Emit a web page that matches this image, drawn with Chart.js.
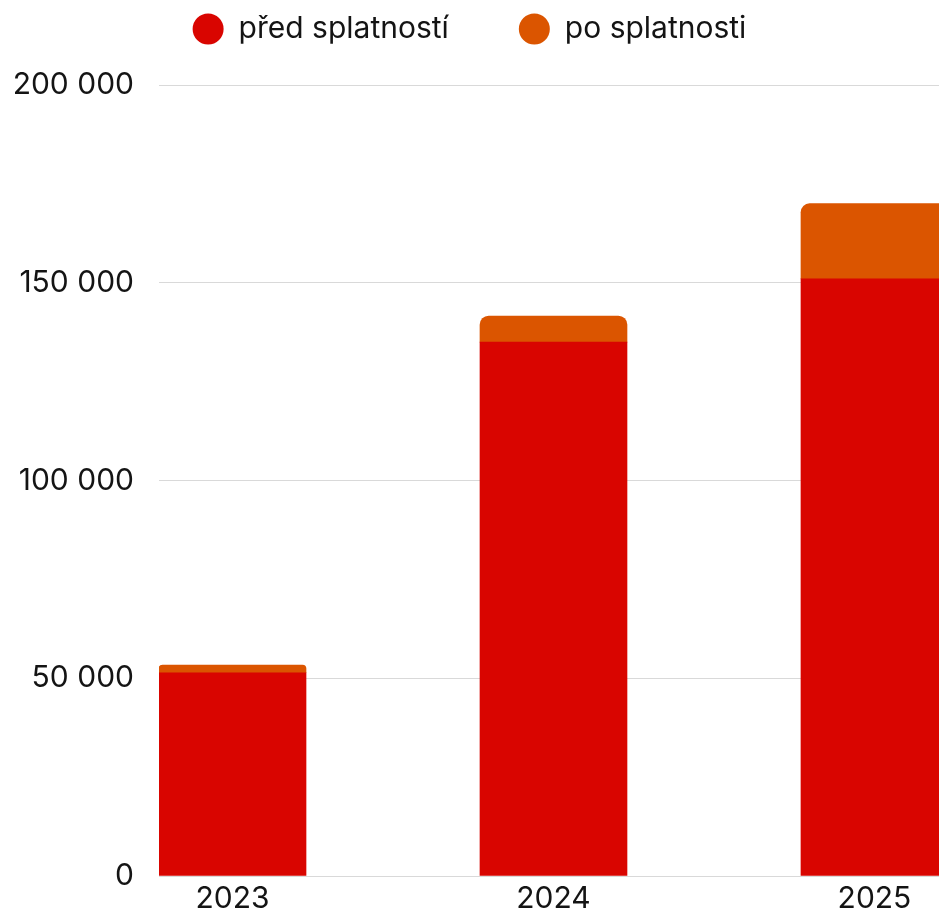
<!DOCTYPE html>
<html lang="cs">
<head>
  <meta charset="UTF-8">
  <title>Pohledávky</title>
  <script src="https://cdn.jsdelivr.net/npm/chart.js"></script>
  <style>
    html, body { margin: 0; padding: 0; background: #fff; overflow: hidden; }
    .chart-box { position: relative; width: 939px; height: 916px; }
  </style>
</head>
<body>
  <div class="chart-box">
    <canvas id="chart"></canvas>
  </div>

  <script>
    // data
    const years = [2023, 2024, 2025];
    const beforeDue = [51400, 135000, 151000];
    const afterDue = [1950, 6600, 19000];
    const seriesNames = ['před splatností', 'po splatnosti'];
    const yTicks = [0, 50000, 100000, 150000, 200000];

    const RED = '#d90500';
    const ORANGE = '#db5500';

    Chart.defaults.font.family = 'Inter, "Open Sans", sans-serif';
    Chart.defaults.font.size = 30;
    Chart.defaults.color = '#141414';

    function fmt(v) {
      return String(v).replace(/\B(?=(\d{3})+(?!\d))/g, ' ');
    }

    // legend needs more room below it than Chart.js gives
    const legendHeight = {
      id: 'legendHeight',
      beforeInit(chart) {
        const fit = chart.legend.fit;
        chart.legend.fit = function () {
          fit.call(this);
          this.height = 141;
        };
      }
    };

    const ctx = document.getElementById('chart').getContext('2d');
    new Chart(ctx, {
      type: 'bar',
      data: {
        datasets: [
          {
            label: seriesNames[0],
            data: years.map((y, i) => ({ x: y, y: beforeDue[i] })),
            backgroundColor: RED,
            borderWidth: 0,
            borderRadius: 0,
            barThickness: 147
          },
          {
            label: seriesNames[1],
            data: years.map((y, i) => ({ x: y, y: afterDue[i] })),
            backgroundColor: ORANGE,
            borderWidth: 0,
            borderRadius: { topLeft: 9, topRight: 9, bottomLeft: 0, bottomRight: 0 },
            borderSkipped: false,
            barThickness: 147
          }
        ]
      },
      options: {
        responsive: true,
        maintainAspectRatio: false,
        animation: false,
        events: [],
        layout: { padding: { top: -56, left: 0, right: 0, bottom: 0 } },
        plugins: {
          legend: {
            position: 'top',
            labels: {
              usePointStyle: true,
              pointStyle: 'circle',
              boxHeight: 22,
              pointStyleWidth: 31,
              padding: 70,
              font: { size: 30 }
            }
          },
          tooltip: { enabled: false }
        },
        scales: {
          x: {
            type: 'linear',
            stacked: true,
            offset: false,
            min: 2022.771,
            max: 2025.201,
            afterFit: scale => { scale.height = 40; },
            grid: { display: false, drawTicks: false, offset: false },
            border: { display: false },
            ticks: {
              stepSize: 1,
              includeBounds: false,
              autoSkip: false,
              maxRotation: 0,
              padding: 4.5,
              callback: v => String(v)
            }
          },
          y: {
            stacked: true,
            min: 0,
            max: 200000,
            afterFit: scale => { scale.width = 159; },
            afterBuildTicks: scale => { scale.ticks = yTicks.map(v => ({ value: v })); },
            grid: { color: '#d9d9d9', lineWidth: 1, drawTicks: false },
            border: { display: false },
            ticks: {
              padding: 25,
              font: { size: 30, lineHeight: 1 },
              callback: v => fmt(v)
            }
          }
        }
      },
      plugins: [legendHeight]
    });
  </script>
</body>
</html>
